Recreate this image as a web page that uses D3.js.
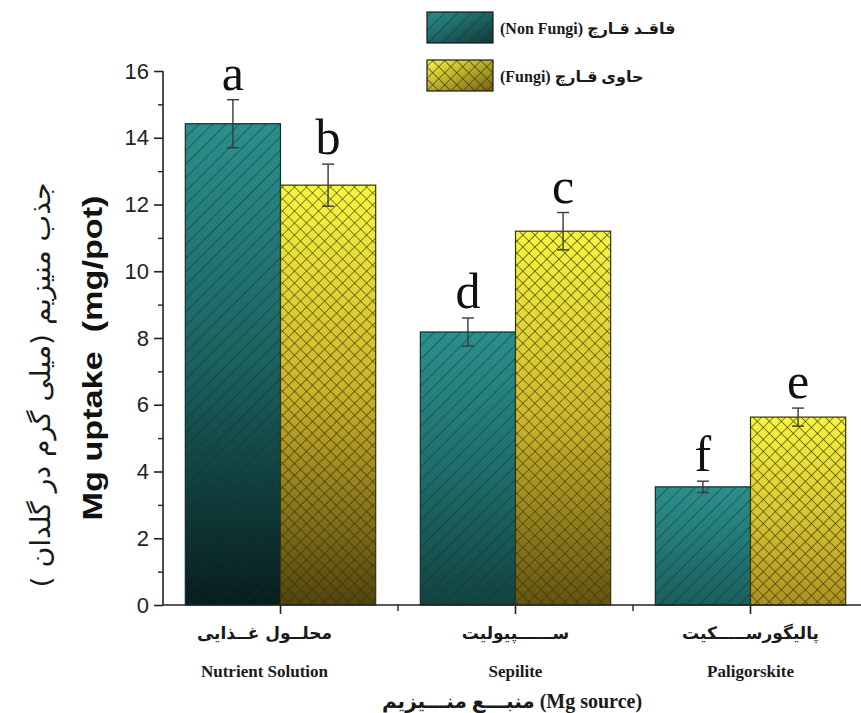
<!DOCTYPE html>
<html><head><meta charset="utf-8">
<script src="https://cdn.jsdelivr.net/npm/d3@7"></script>
<style>body{margin:0;background:#fff}svg{display:block}</style>
</head><body>
<svg id="c" width="861" height="713"></svg>
<script>
// ---- data ----
const groups = ["Nutrient Solution", "Sepilite", "Paligorskite"];
const groupsFa = ["محلــول غــذایی", "ســــــپیولیت", "پالیگورســـــکیت"];
const series = ["nonFungi", "fungi"];
const seriesLabels = ["(Non Fungi) فاقـد قـارچ", "(Fungi) حاوی قـارچ"];
const nonFungi = [14.42, 8.18, 3.54];
const fungi = [12.58, 11.2, 5.63];
const nonFungiErr = [0.72, 0.42, 0.17];
const fungiErr = [0.63, 0.56, 0.27];
const nonFungiLetters = ["a", "d", "f"];
const fungiLetters = ["b", "c", "e"];
const yTicks = [0, 2, 4, 6, 8, 10, 12, 14, 16];
const yMinorTicks = [1, 3, 5, 7, 9, 11, 13, 15];
const yTitleFa = "جذب منیزیم (میلی گرم در گلدان )";
const yTitleEn = "Mg uptake  (mg/pot)";
const xTitle = "منبـــع منـــیزیم (Mg source)";

const svg = d3.select("#c");
const pL = 163, pT = 71, pB = 605, pR = 868;

const y = d3.scaleLinear().domain([0, 16]).range([pB, pT]);
const x = d3.scaleBand().domain(groups).range([pL, pR]).paddingInner(0.19).paddingOuter(0.095);
const xs = d3.scaleBand().domain(series).range([0, x.bandwidth()]);

const colors = {
  nonFungi: {ramp: ["#2b8f8b", "#1a5e5c", "#041313"], hatch: "#0a3130"},
  fungi: {ramp: ["#f6f640", "#c2a628", "#262004"], hatch: "#3a3206"}
};

const defs = svg.append("defs");
const p1 = defs.append("pattern").attr("id", "hatchNF").attr("patternUnits", "userSpaceOnUse")
  .attr("width", 9.5).attr("height", 9.5).attr("patternTransform", "rotate(45)");
p1.append("line").attr("x1", 0).attr("y1", 0).attr("x2", 0).attr("y2", 9.5)
  .attr("stroke", colors.nonFungi.hatch).attr("stroke-width", 1.3).attr("stroke-opacity", 0.75);
const p2 = defs.append("pattern").attr("id", "hatchF").attr("patternUnits", "userSpaceOnUse")
  .attr("width", 8.5).attr("height", 8.5).attr("patternTransform", "rotate(45)");
p2.append("line").attr("x1", 0).attr("y1", 0).attr("x2", 0).attr("y2", 8.5)
  .attr("stroke", colors.fungi.hatch).attr("stroke-width", 1.5).attr("stroke-opacity", 0.8);
p2.append("line").attr("x1", 0).attr("y1", 0).attr("x2", 8.5).attr("y2", 0)
  .attr("stroke", colors.fungi.hatch).attr("stroke-width", 1.5).attr("stroke-opacity", 0.8);

const data = [];
groups.forEach((g, i) => {
  data.push({g, s: "nonFungi", v: nonFungi[i], e: nonFungiErr[i], l: nonFungiLetters[i], i});
  data.push({g, s: "fungi", v: fungi[i], e: fungiErr[i], l: fungiLetters[i], i});
});

data.forEach((d, k) => {
  const ramp = d3.piecewise(d3.interpolateRgb, colors[d.s].ramp);
  const gr = defs.append("linearGradient").attr("id", "grad" + k)
    .attr("x1", 0).attr("y1", 0).attr("x2", 0).attr("y2", 1);
  const f = 0.35 + 0.65 * d.v / 16;
  [0, 0.5, 1].forEach(o => gr.append("stop").attr("offset", o).attr("stop-color", ramp(o * f)));
});
series.forEach(s => {
  const ramp = d3.piecewise(d3.interpolateRgb, colors[s].ramp);
  const gr = defs.append("linearGradient").attr("id", "lg_" + s)
    .attr("x1", 0).attr("y1", 0).attr("x2", 1).attr("y2", 1);
  gr.append("stop").attr("offset", 0).attr("stop-color", ramp(0));
  gr.append("stop").attr("offset", 1).attr("stop-color", ramp(0.75));
});

// bars
const bars = svg.append("g");
data.forEach((d, k) => {
  const bx = x(d.g) + xs(d.s), bw = xs.bandwidth();
  bars.append("rect").attr("x", bx).attr("y", y(d.v)).attr("width", bw).attr("height", y(0) - y(d.v))
    .attr("fill", `url(#grad${k})`);
  bars.append("rect").attr("x", bx).attr("y", y(d.v)).attr("width", bw).attr("height", y(0) - y(d.v))
    .attr("fill", d.s === "nonFungi" ? "url(#hatchNF)" : "url(#hatchF)")
    .attr("stroke", d.s === "nonFungi" ? "#0b2f2e" : "#3a3408").attr("stroke-width", 1.2);
});

// error bars + letters
const eb = svg.append("g").attr("stroke", "#3a3a3a").attr("stroke-width", 1.4);
data.forEach(d => {
  const cx = x(d.g) + xs(d.s) + xs.bandwidth() / 2;
  eb.append("line").attr("x1", cx).attr("x2", cx).attr("y1", y(d.v + d.e)).attr("y2", y(d.v - d.e));
  [d.v + d.e, d.v - d.e].forEach(v => {
    eb.append("line").attr("x1", cx - 6).attr("x2", cx + 6).attr("y1", y(v)).attr("y2", y(v));
  });
  svg.append("text").attr("x", cx).attr("y", y(d.v + d.e) - 10)
    .attr("text-anchor", "middle").attr("font-family", "Liberation Serif, serif")
    .attr("font-size", 50).attr("fill", "#111").text(d.l);
});

// y axis
const yAxis = svg.append("g").attr("transform", `translate(${pL},0)`)
  .call(d3.axisLeft(y).tickValues(yTicks).tickSize(9).tickPadding(5).tickFormat(d3.format("d")));
yAxis.select(".domain").attr("stroke", "#222").attr("stroke-width", 1.6).attr("d", `M0,${pT}V${pB}`);
yAxis.selectAll(".tick line").attr("stroke", "#222").attr("stroke-width", 1.6);
yAxis.selectAll(".tick text").attr("font-family", "Liberation Sans, Arial, sans-serif")
  .attr("font-size", 22).attr("fill", "#222");
svg.append("g").attr("transform", `translate(${pL},0)`)
  .call(d3.axisLeft(y).tickValues(yMinorTicks).tickSize(5).tickFormat(""))
  .call(g => g.select(".domain").remove())
  .selectAll(".tick line").attr("stroke", "#222").attr("stroke-width", 1.4);

// x axis
svg.append("line").attr("x1", pL).attr("x2", pR).attr("y1", pB).attr("y2", pB)
  .attr("stroke", "#222").attr("stroke-width", 1.6);
groups.forEach((g, i) => {
  const cx = x(g) + x.bandwidth() / 2;
  svg.append("line").attr("x1", cx).attr("x2", cx).attr("y1", pB).attr("y2", pB + 9)
    .attr("stroke", "#222").attr("stroke-width", 1.6);
  if (i > 0) {
    const mx = x(g) - x.step() * x.paddingInner() / 2;
    svg.append("line").attr("x1", mx).attr("x2", mx).attr("y1", pB).attr("y2", pB + 6)
      .attr("stroke", "#222").attr("stroke-width", 1.4);
  }
  svg.append("text").attr("x", cx - (i === 0 ? 16 : 0)).attr("y", 639).attr("text-anchor", "middle")
    .attr("font-family", "DejaVu Sans, sans-serif").attr("font-weight", "bold")
    .attr("font-size", 17).attr("fill", "#1a1a1a").text(groupsFa[i]);
  svg.append("text").attr("x", cx - (i === 0 ? 16 : 0)).attr("y", 677).attr("text-anchor", "middle")
    .attr("font-family", "Liberation Serif, serif").attr("font-weight", "bold")
    .attr("font-size", 17).attr("fill", "#1a1a1a").text(g);
});
svg.append("text").attr("x", 512).attr("y", 708).attr("text-anchor", "middle")
  .attr("font-family", "Liberation Serif, DejaVu Sans, serif").attr("font-weight", "bold")
  .attr("font-size", 20).attr("fill", "#1a1a1a").text(xTitle);

// y titles
svg.append("text").attr("transform", "translate(50,385) rotate(-90)").attr("text-anchor", "middle")
  .attr("font-family", "DejaVu Sans, sans-serif").attr("font-size", 27).attr("fill", "#1a1a1a")
  .attr("textLength", 405).attr("lengthAdjust", "spacingAndGlyphs")
  .text(yTitleFa);
svg.append("text").attr("transform", "translate(102,358) rotate(-90)").attr("text-anchor", "middle")
  .attr("font-family", "Liberation Sans, Arial, sans-serif").attr("font-weight", "bold")
  .attr("font-size", 27).attr("fill", "#111").style("white-space", "pre")
  .attr("textLength", 325).attr("lengthAdjust", "spacingAndGlyphs")
  .text(yTitleEn);

// legend
series.forEach((s, i) => {
  const ly = 12 + i * 48;
  svg.append("rect").attr("x", 427).attr("y", ly).attr("width", 66).attr("height", 31)
    .attr("fill", `url(#lg_${s})`);
  svg.append("rect").attr("x", 427).attr("y", ly).attr("width", 66).attr("height", 31)
    .attr("fill", s === "nonFungi" ? "url(#hatchNF)" : "url(#hatchF)")
    .attr("stroke", "#1a1a1a").attr("stroke-width", 1.2);
  svg.append("text").attr("x", 500).attr("y", ly + 22)
    .attr("font-family", "Liberation Serif, DejaVu Sans, serif").attr("font-weight", "bold")
    .attr("font-size", 16).attr("fill", "#1a1a1a").text(seriesLabels[i]);
});
</script>
</body></html>
